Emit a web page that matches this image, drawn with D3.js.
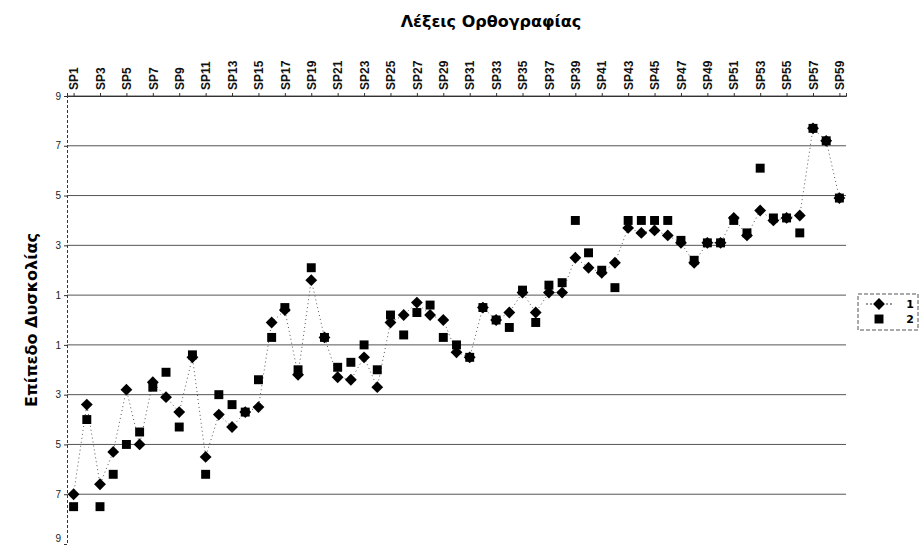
<!DOCTYPE html>
<html>
<head>
<meta charset="utf-8">
<script src="https://cdn.jsdelivr.net/npm/d3@7"></script>
<style>
  body { margin: 0; background: #fff; }
  svg { font-family: "DejaVu Sans", "Liberation Sans", Arial, sans-serif; }
</style>
</head>
<body>
<script>
const words = d3.range(1, 60).map((i) => "SP" + i);
const series1 = [
  -7.0, -3.4, -6.6, -5.3, -2.8, -5.0, -2.5, -3.1, -3.7, -1.5,
  -5.5, -3.8, -4.3, -3.7, -3.5, -0.1, 0.4, -2.2, 1.6, -0.7,
  -2.3, -2.4, -1.5, -2.7, -0.1, 0.2, 0.7, 0.2, 0.0, -1.3,
  -1.5, 0.5, 0.0, 0.3, 1.1, 0.3, 1.1, 1.1, 2.5, 2.1,
  1.9, 2.3, 3.7, 3.5, 3.6, 3.4, 3.1, 2.3, 3.1, 3.1,
  4.1, 3.4, 4.4, 4.0, 4.1, 4.2, 7.7, 7.2, 4.9
];
const series2 = [
  -7.5, -4.0, -7.5, -6.2, -5.0, -4.5, -2.7, -2.1, -4.3, -1.4,
  -6.2, -3.0, -3.4, -3.7, -2.4, -0.7, 0.5, -2.0, 2.1, -0.7,
  -1.9, -1.7, -1.0, -2.0, 0.2, -0.6, 0.3, 0.6, -0.7, -1.0,
  -1.5, 0.5, 0.0, -0.3, 1.2, -0.1, 1.4, 1.5, 4.0, 2.7,
  2.0, 1.3, 4.0, 4.0, 4.0, 4.0, 3.2, 2.4, 3.1, 3.1,
  4.0, 3.5, 6.1, 4.1, 4.1, 3.5, 7.7, 7.2, 4.9
];
const yTicks = [9, 7, 5, 3, 1, -1, -3, -5, -7, -9];
const seriesNames = ["1", "2"];

const W = 922, H = 550;
const plotL = 67, plotR = 846, plotT = 96, plotB = 544;

const svg = d3.select("body").append("svg")
  .attr("width", W)
  .attr("height", H);

const x = d3.scalePoint().domain(words).range([plotL, plotR]).padding(0.5);
const y = d3.scaleLinear().domain([-9, 9]).range([plotB, plotT]);

// horizontal grid
svg.append("g")
  .selectAll("line")
  .data(yTicks.filter((d) => d > -9))
  .join("line")
  .attr("x1", plotL).attr("x2", plotR)
  .attr("y1", (d) => y(d)).attr("y2", (d) => y(d))
  .attr("stroke", "#555")
  .attr("stroke-width", 1);

// left axis (scan lost the minus signs, labels are shown as printed)
const yAxis = svg.append("g")
  .attr("transform", `translate(${plotL},0)`)
  .call(d3.axisLeft(y).tickValues(yTicks).tickSize(3).tickFormat((d) => Math.abs(d)));
yAxis.select(".domain").attr("stroke", "#333").attr("stroke-dasharray", "3,2");
yAxis.selectAll("text")
  .attr("font-family", "Liberation Sans, Arial, sans-serif")
  .attr("font-size", 10).attr("fill", "#222");
yAxis.selectAll(".tick line").attr("stroke", "#333");
yAxis.selectAll(".tick").filter((d) => d === -9).select("text").attr("dy", "-0.3em");

// top category axis
const xAxis = svg.append("g")
  .attr("transform", `translate(0,${plotT})`)
  .call(d3.axisTop(x).tickValues(words.filter((d, i) => i % 2 === 0)).tickSize(3));
xAxis.select(".domain").attr("stroke", "#333");
xAxis.selectAll(".tick line").attr("stroke", "#333");
xAxis.selectAll("text")
  .attr("font-family", "Liberation Sans, Arial, sans-serif")
  .attr("font-size", 12)
  .attr("font-weight", "bold")
  .attr("fill", "#111")
  .attr("text-anchor", "start")
  .attr("transform", "translate(0,-6) rotate(-90)")
  .attr("x", 0).attr("y", 0).attr("dy", "0.35em");

// titles
svg.append("text")
  .attr("x", 491).attr("y", 27)
  .attr("text-anchor", "middle")
  .attr("font-size", 16)
  .attr("font-weight", "bold")
  .text("Λέξεις Ορθογραφίας");

svg.append("text")
  .attr("transform", "translate(37,320) rotate(-90)")
  .attr("text-anchor", "middle")
  .attr("font-size", 16)
  .attr("font-weight", "bold")
  .text("Επίπεδο Δυσκολίας");

// series 1 dotted line
const line = d3.line().x((d, i) => x(words[i])).y((d) => y(d));
svg.append("path")
  .datum(series1)
  .attr("d", line)
  .attr("fill", "none")
  .attr("stroke", "#555")
  .attr("stroke-width", 1)
  .attr("stroke-dasharray", "1,3");

const diamond = d3.symbol().type(d3.symbolSquare).size(70);
const square = d3.symbol().type(d3.symbolSquare).size(80);

svg.append("g")
  .selectAll("path")
  .data(series2)
  .join("path")
  .attr("d", square)
  .attr("transform", (d, i) => `translate(${x(words[i])},${y(d)})`)
  .attr("fill", "#000");

svg.append("g")
  .selectAll("path")
  .data(series1)
  .join("path")
  .attr("d", diamond)
  .attr("transform", (d, i) => `translate(${x(words[i])},${y(d)}) rotate(45)`)
  .attr("fill", "#000");

// legend
const lg = svg.append("g").attr("transform", "translate(858,294)");
lg.append("rect")
  .attr("width", 60).attr("height", 36)
  .attr("fill", "none")
  .attr("stroke", "#555")
  .attr("stroke-dasharray", "4,2");
lg.append("line")
  .attr("x1", 8).attr("x2", 34).attr("y1", 10).attr("y2", 10)
  .attr("stroke", "#333").attr("stroke-dasharray", "2,2");
lg.append("path")
  .attr("d", diamond)
  .attr("transform", "translate(21,10) rotate(45)");
lg.append("path")
  .attr("d", square)
  .attr("transform", "translate(21,25)");
lg.selectAll("text.lab")
  .data(seriesNames)
  .join("text")
  .attr("class", "lab")
  .attr("x", 52)
  .attr("y", (d, i) => 10 + i * 15)
  .attr("dy", "0.35em")
  .attr("text-anchor", "middle")
  .attr("font-size", 11)
  .attr("font-weight", "bold")
  .text((d) => d);
</script>
</body>
</html>
